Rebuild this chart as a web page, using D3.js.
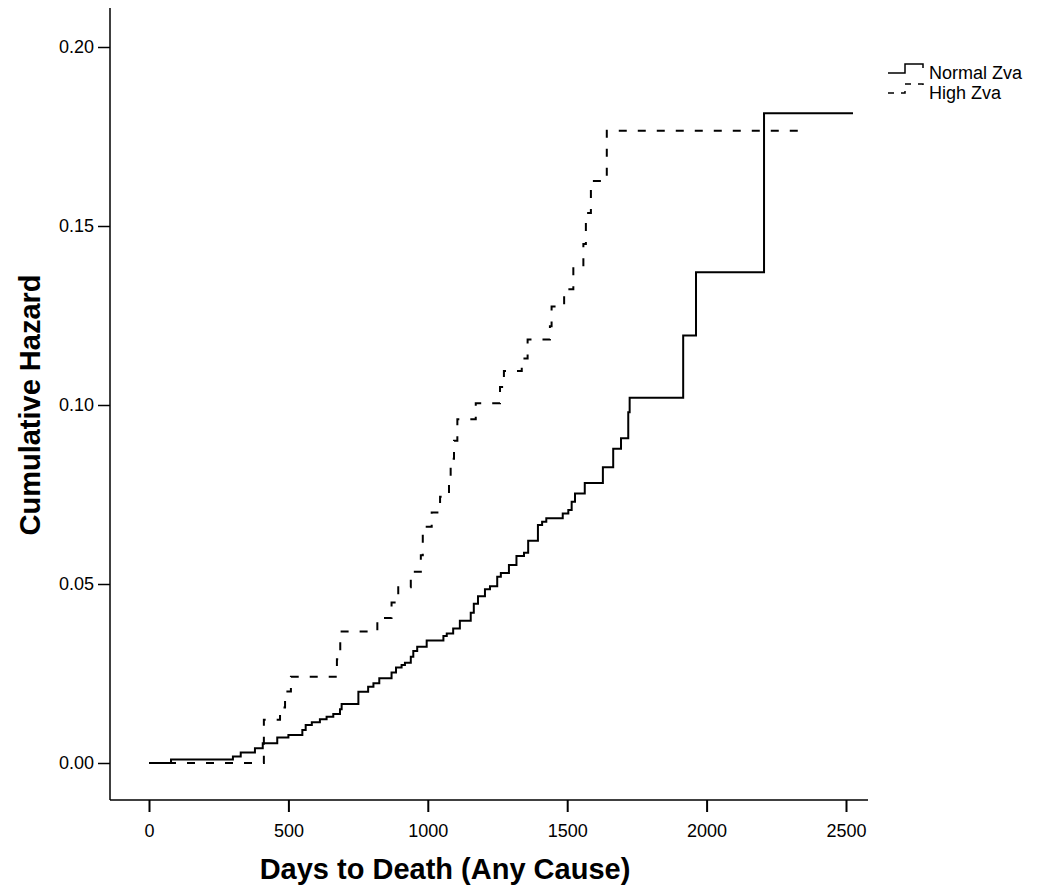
<!DOCTYPE html>
<html>
<head>
<meta charset="utf-8">
<script src="https://cdn.jsdelivr.net/npm/d3@7"></script>
<style>
  body { margin: 0; background: #fff; }
  .tick text { font-family: "Liberation Sans", Arial, sans-serif; font-size: 18px; fill: #000; }
  .axis-title { font-family: "Liberation Sans", Arial, sans-serif; font-weight: bold; font-size: 29px; fill: #000; }
  .legend text { font-family: "Liberation Sans", Arial, sans-serif; font-size: 18px; fill: #000; }
</style>
</head>
<body>
<div id="chartContainer"></div>
<script>
// Normal Zva: step points (day, cumulative hazard); last entry is the final censored time
const normalDays = [0, 79, 301, 329, 380, 408, 460, 500, 550, 562, 584, 613, 637, 661, 685, 691, 751, 786, 805, 826,
    870, 886, 906, 918, 939, 948, 962, 996, 1056, 1068, 1091, 1115, 1154, 1165, 1180, 1205, 1223, 1249, 1262, 1291,
    1318, 1345, 1360, 1395, 1410, 1425, 1484, 1504, 1516, 1528, 1563, 1628, 1665, 1693, 1719, 1724, 1916, 1962, 2206, 2525];
const normalHazard = [0, 0.001, 0.0018, 0.0029, 0.0041, 0.0055, 0.0071, 0.0078, 0.0092, 0.0106, 0.0114, 0.0122, 0.0129, 0.0137, 0.0150, 0.0165, 0.0199, 0.0213, 0.0223, 0.0237,
    0.0253, 0.0267, 0.0274, 0.0280, 0.0297, 0.0313, 0.0325, 0.0342, 0.0355, 0.0362, 0.0376, 0.0397, 0.0420, 0.0445, 0.0466, 0.0485, 0.0494, 0.0520, 0.0531, 0.0553,
    0.0578, 0.0587, 0.0621, 0.0665, 0.0674, 0.0684, 0.0697, 0.0707, 0.0730, 0.0753, 0.0782, 0.0826, 0.0878, 0.0907, 0.0980, 0.1020, 0.1194, 0.1371, 0.1815, 0.1815];

// High Zva
const highDays = [0, 412, 470, 488, 509, 674, 686, 819, 870, 894, 939, 975, 982, 1014, 1044, 1076, 1082, 1094, 1106,
    1172, 1259, 1273, 1337, 1358, 1438, 1444, 1489, 1522, 1558, 1567, 1585, 1642, 2329];
const highHazard = [0, 0.0121, 0.0155, 0.0200, 0.0241, 0.0290, 0.0367, 0.0405, 0.0448, 0.0491, 0.0534, 0.0580, 0.0660, 0.0700, 0.0744, 0.0800, 0.0850, 0.0900, 0.0960,
    0.1005, 0.1050, 0.1095, 0.1130, 0.1183, 0.1220, 0.1275, 0.1323, 0.1386, 0.1450, 0.1536, 0.1626, 0.1766, 0.1766];

const xTicks = [0, 500, 1000, 1500, 2000, 2500];
const yTicks = [0, 0.05, 0.10, 0.15, 0.20];
const seriesNames = ['Normal Zva', 'High Zva'];

const svgWidth = 1042;
const svgHeight = 894;

const svg = d3.select('#chartContainer').append('svg').attr('width', svgWidth).attr('height', svgHeight);

const xScale = d3.scaleLinear().domain([0, 2500]).range([149, 846]);
const yScale = d3.scaleLinear().domain([0, 0.2]).range([763, 47]);

const axisLeftX = 110;
const axisBottomY = 800;

// x axis
const xAxis = svg.append('g')
    .attr('transform', `translate(0, ${axisBottomY})`)
    .call(d3.axisBottom(xScale).tickValues(xTicks).tickSize(12).tickPadding(12).tickFormat(d3.format('d')));
xAxis.select('.domain').remove();
xAxis.selectAll('.tick line').attr('stroke', '#000').attr('stroke-width', 2);
xAxis.append('line')
    .attr('x1', axisLeftX).attr('x2', 868)
    .attr('stroke', '#000').attr('stroke-width', 1.5);

// y axis
const yAxis = svg.append('g')
    .attr('transform', `translate(${axisLeftX}, 0)`)
    .call(d3.axisLeft(yScale).tickValues(yTicks).tickSize(12).tickPadding(4).tickFormat(d3.format('.2f')));
yAxis.select('.domain').remove();
yAxis.selectAll('.tick line').attr('stroke', '#000').attr('stroke-width', 1.5);
yAxis.append('line')
    .attr('y1', 8).attr('y2', axisBottomY)
    .attr('stroke', '#000').attr('stroke-width', 1.5);

// curves
const line = d3.line()
    .x((d) => xScale(d[0]))
    .y((d) => yScale(d[1]))
    .curve(d3.curveStepAfter);

svg.append('path')
    .datum(d3.zip(normalDays, normalHazard))
    .attr('d', line)
    .attr('fill', 'none')
    .attr('stroke', '#000')
    .attr('stroke-width', 2);

svg.append('path')
    .datum(d3.zip(highDays, highHazard))
    .attr('d', line)
    .attr('fill', 'none')
    .attr('stroke', '#000')
    .attr('stroke-width', 2)
    .attr('stroke-dasharray', '8,11');

// axis titles
svg.append('text')
    .attr('class', 'axis-title')
    .attr('x', 445)
    .attr('y', 879)
    .attr('text-anchor', 'middle')
    .text('Days to Death (Any Cause)');

svg.append('text')
    .attr('class', 'axis-title')
    .attr('transform', 'translate(40, 405) rotate(-90)')
    .attr('text-anchor', 'middle')
    .text('Cumulative Hazard');

// legend
const legend = svg.append('g').attr('class', 'legend');
const legendDash = [null, '6,7'];
seriesNames.forEach((name, i) => {
    const ly = 73 + i * 20;
    legend.append('path')
        .attr('d', `M888,${ly} H905 V${ly - 9} H923 V${ly - 5}`)
        .attr('fill', 'none')
        .attr('stroke', '#000')
        .attr('stroke-width', 1.5)
        .attr('stroke-dasharray', legendDash[i]);
    legend.append('text')
        .attr('x', 929)
        .attr('y', ly + 6)
        .text(name);
});
</script>
</body>
</html>
